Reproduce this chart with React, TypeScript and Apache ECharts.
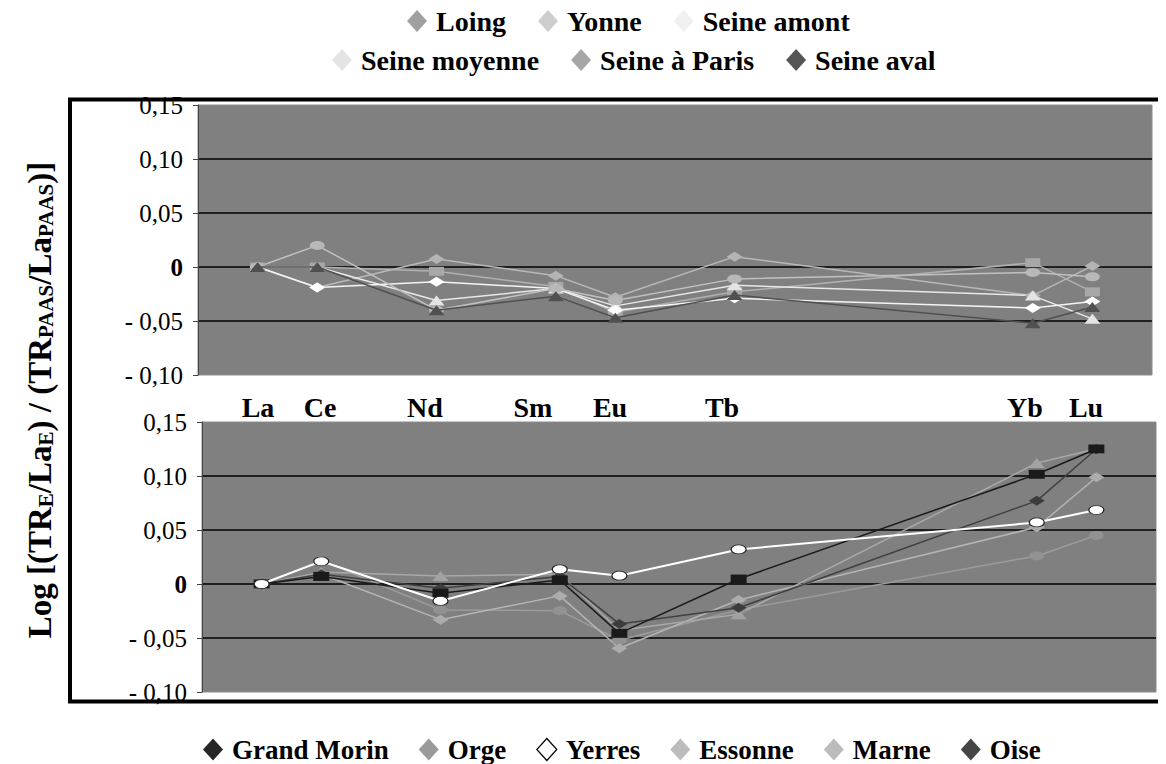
import React, { useEffect, useRef } from "react";
import * as echarts from "echarts";

// Rare earth elements (x axis = atomic number)
const elements = ["La", "Ce", "Nd", "Sm", "Eu", "Tb", "Yb", "Lu"];
const atomicNumbers = [57, 58, 60, 62, 63, 65, 70, 71];

// Top panel: Seine and its upstream branches
const loing = [0, -0.019, 0.0075, -0.008, -0.028, 0.0096, -0.0265, 0.001];
const yonne = [0, 0, -0.004, -0.018, -0.042, -0.023, 0.004, -0.023];
const seineAmont = [0, 0, -0.031, -0.02, -0.036, -0.017, -0.0265, -0.048];
const seineMoyenne = [0, -0.019, -0.0136, -0.02, -0.04, -0.029, -0.038, -0.032];
const seineParis = [0, 0.02, -0.04, -0.02, -0.031, -0.011, -0.005, -0.009];
const seineAval = [0, 0, -0.04, -0.027, -0.047, -0.026, -0.052, -0.037];

// Bottom panel: tributaries
const grandMorin = [0, 0.007, -0.0086, 0.0037, -0.0457, 0.0046, 0.1016, 0.125];
const orge = [0, 0.022, -0.024, -0.0247, -0.052, -0.024, 0.026, 0.045];
const yerres = [0, 0.021, -0.0157, 0.0136, 0.0077, 0.032, 0.057, 0.0685];
const essonne = [0, 0.009, -0.033, -0.011, -0.0595, -0.0148, 0.0525, 0.0988];
const marne = [0, 0.011, 0.0075, 0.009, -0.043, -0.028, 0.112, 0.125];
const oise = [0, 0.009, -0.004, 0.007, -0.037, -0.022, 0.077, 0.125];

// Y tick values and their labels
const yTickValues = [0.15, 0.1, 0.05, 0, -0.05, -0.1];
const yTickLabels = ["0,15", "0,10", "0,05", "0", "- 0,05", "- 0,10"];

const SERIF = "Liberation Serif";
const ELLIPSE = "path://M0,50 A50,50 0 1 0 100,50 A50,50 0 1 0 0,50 Z";

const toPoints = (vals: number[]) => atomicNumbers.map((x, i) => [x, vals[i]]);

export default function App() {
  const ref = useRef<HTMLDivElement>(null);
  useEffect(() => {
    if (!ref.current) return;
    const chart = echarts.init(ref.current, null, { renderer: "svg" });

    const mk = (
      name: string,
      vals: number[],
      idx: number,
      symbol: string,
      fill: string,
      line: string,
      opts: any = {}
    ) => ({
      name,
      type: "line",
      xAxisIndex: idx,
      yAxisIndex: idx,
      data: toPoints(vals),
      symbol,
      symbolSize: opts.size || [15, 9],
      showAllSymbol: true,
      lineStyle: { color: line, width: opts.lw || 1.5 },
      itemStyle: {
        color: fill,
        borderColor: opts.border || fill,
        borderWidth: opts.bw || 0,
      },
      z: opts.z || 2,
    });

    const yAxisBase = (gi: number) => ({
      type: "value",
      gridIndex: gi,
      min: -0.1,
      max: 0.15,
      interval: 0.05,
      axisLine: { show: true, lineStyle: { color: "#444", width: 1 } },
      axisTick: { show: true, length: 5, lineStyle: { color: "#444" } },
      axisLabel: { show: false },
      splitLine: {
        show: true,
        showMinLine: false,
        showMaxLine: false,
        lineStyle: { color: "#000", width: 1.5 },
      },
    });

    const xAxisBase = (gi: number) => ({
      type: "value",
      gridIndex: gi,
      min: 56,
      max: 72,
      interval: 1,
      axisLine: { show: false },
      axisTick: { show: false },
      axisLabel: { show: false },
      splitLine: { show: false },
    });

    const legendText = {
      fontFamily: SERIF,
      fontWeight: "bold",
      fontSize: 28,
      lineHeight: 28,
      color: "#000",
      padding: [0, 0, 0, 4],
    };
    const li = (name: string, color: string, border?: string) => ({
      name,
      icon: "diamond",
      itemStyle: { color, borderColor: border || color, borderWidth: border ? 1.2 : 0 },
    });

    chart.setOption({
      animation: false,
      backgroundColor: "#fff",
      textStyle: { fontFamily: SERIF },
      grid: [
        { left: 198, top: 105, width: 954, height: 270, show: true, backgroundColor: "#808080", borderColor: "#8c8c8c", borderWidth: 1 },
        { left: 202, top: 422, width: 954, height: 270, show: true, backgroundColor: "#808080", borderColor: "#8c8c8c", borderWidth: 1 },
      ],
      xAxis: [xAxisBase(0), xAxisBase(1)],
      yAxis: [yAxisBase(0), yAxisBase(1)],
      legend: [
        {
          left: 402,
          top: 2,
          itemWidth: 20,
          itemHeight: 22,
          itemGap: 32,
          textStyle: legendText,
          data: [li("Loing", "#a0a0a0"), li("Yonne", "#cdcdcd"), li("Seine amont", "#f0f0f0")],
        },
        {
          left: 327,
          top: 41,
          itemWidth: 20,
          itemHeight: 22,
          itemGap: 32,
          textStyle: legendText,
          data: [li("Seine moyenne", "#e4e4e4"), li("Seine à Paris", "#a6a6a6"), li("Seine aval", "#555555")],
        },
        {
          left: 198,
          top: 731,
          itemWidth: 20,
          itemHeight: 22,
          itemGap: 30,
          textStyle: { ...legendText, fontSize: 27, lineHeight: 27 },
          data: [
            li("Grand Morin", "#262626"),
            li("Orge", "#9a9a9a"),
            li("Yerres", "#ffffff", "#000000"),
            li("Essonne", "#bcbcbc"),
            li("Marne", "#bcbcbc"),
            li("Oise", "#454545"),
          ],
        },
      ],
      series: [
        mk("Loing", loing, 0, "diamond", "#b4b4b4", "#b8b8b8", { size: [16, 10] }),
        mk("Yonne", yonne, 0, "rect", "#a8a8a8", "#b0b0b0", { size: [15, 9] }),
        mk("Seine amont", seineAmont, 0, "triangle", "#e4e4e4", "#e8e8e8", { size: [16, 10] }),
        mk("Seine moyenne", seineMoyenne, 0, "diamond", "#ffffff", "#f4f4f4", { size: [16, 10] }),
        mk("Seine à Paris", seineParis, 0, ELLIPSE, "#b8b8b8", "#c0c0c0", { size: [15, 9] }),
        mk("Seine aval", seineAval, 0, "triangle", "#505050", "#505050", { size: [16, 10], z: 3 }),

        mk("Orge", orge, 1, ELLIPSE, "#929292", "#9c9c9c", { size: [15, 9] }),
        mk("Essonne", essonne, 1, "diamond", "#acacac", "#b4b4b4", { size: [16, 10] }),
        mk("Marne", marne, 1, "triangle", "#a2a2a2", "#a8a8a8", { size: [16, 10] }),
        mk("Oise", oise, 1, "diamond", "#3c3c3c", "#404040", { size: [16, 10], z: 3 }),
        mk("Grand Morin", grandMorin, 1, "rect", "#1a1a1a", "#1a1a1a", { size: [16, 9], z: 3 }),
        mk("Yerres", yerres, 1, ELLIPSE, "#ffffff", "#ffffff", { size: [15, 9], border: "#222", bw: 1, lw: 2, z: 4 }),
      ],
    });

    // Tick labels placed through the axes' own scales
    const tickTexts: any[] = [];
    [0, 1].forEach((gi) => {
      const axisX = chart.convertToPixel({ xAxisIndex: gi } as any, 56) as number;
      yTickValues.forEach((v, i) => {
        const y = chart.convertToPixel({ yAxisIndex: gi } as any, v) as number;
        const isZero = v === 0;
        tickTexts.push({
          type: "text",
          x: axisX - 15,
          y,
          style: {
            text: yTickLabels[i],
            font: `${isZero ? "bold " : ""}25px ${SERIF}`,
            fill: "#000",
            align: "right",
            verticalAlign: "middle",
          },
        });
      });
    });

    // Element symbols between the two panels
    const elementLabelX = [258, 320, 425, 533, 610, 722, 1025, 1086];
    const elementTexts = elements.map((t, i) => ({
      type: "text",
      x: elementLabelX[i],
      y: 407,
      style: {
        text: t,
        font: `bold 28px ${SERIF}`,
        fill: "#000",
        align: "center",
        verticalAlign: "middle",
      },
    }));

    chart.setOption({
      graphic: [
        {
          type: "rect",
          shape: { x: 70, y: 99.5, width: 1110, height: 602 },
          style: { fill: "none", stroke: "#000", lineWidth: 4 },
          z: 10,
        },
        ...elementTexts,
        ...tickTexts,
        {
          type: "text",
          x: 38,
          y: 400,
          rotation: Math.PI / 2,
          style: {
            text: "{m|Log [(TR}{s|E}{m|/La}{s|E}{m|) / (TR}{s|PAAS}{m|/La}{s|PAAS}{m|)]}",
            align: "center",
            verticalAlign: "middle",
            rich: {
              m: { fontFamily: SERIF, fontWeight: "bold", fontSize: 33, fill: "#000", lineHeight: 36, verticalAlign: "bottom" },
              s: { fontFamily: SERIF, fontWeight: "bold", fontSize: 21, fill: "#000", lineHeight: 12, verticalAlign: "bottom" },
            },
          },
        },
      ],
    });

    return () => chart.dispose();
  }, []);

  return <div ref={ref} style={{ width: 1166, height: 764, marginTop: -8, marginLeft: -8 }} />;
}
